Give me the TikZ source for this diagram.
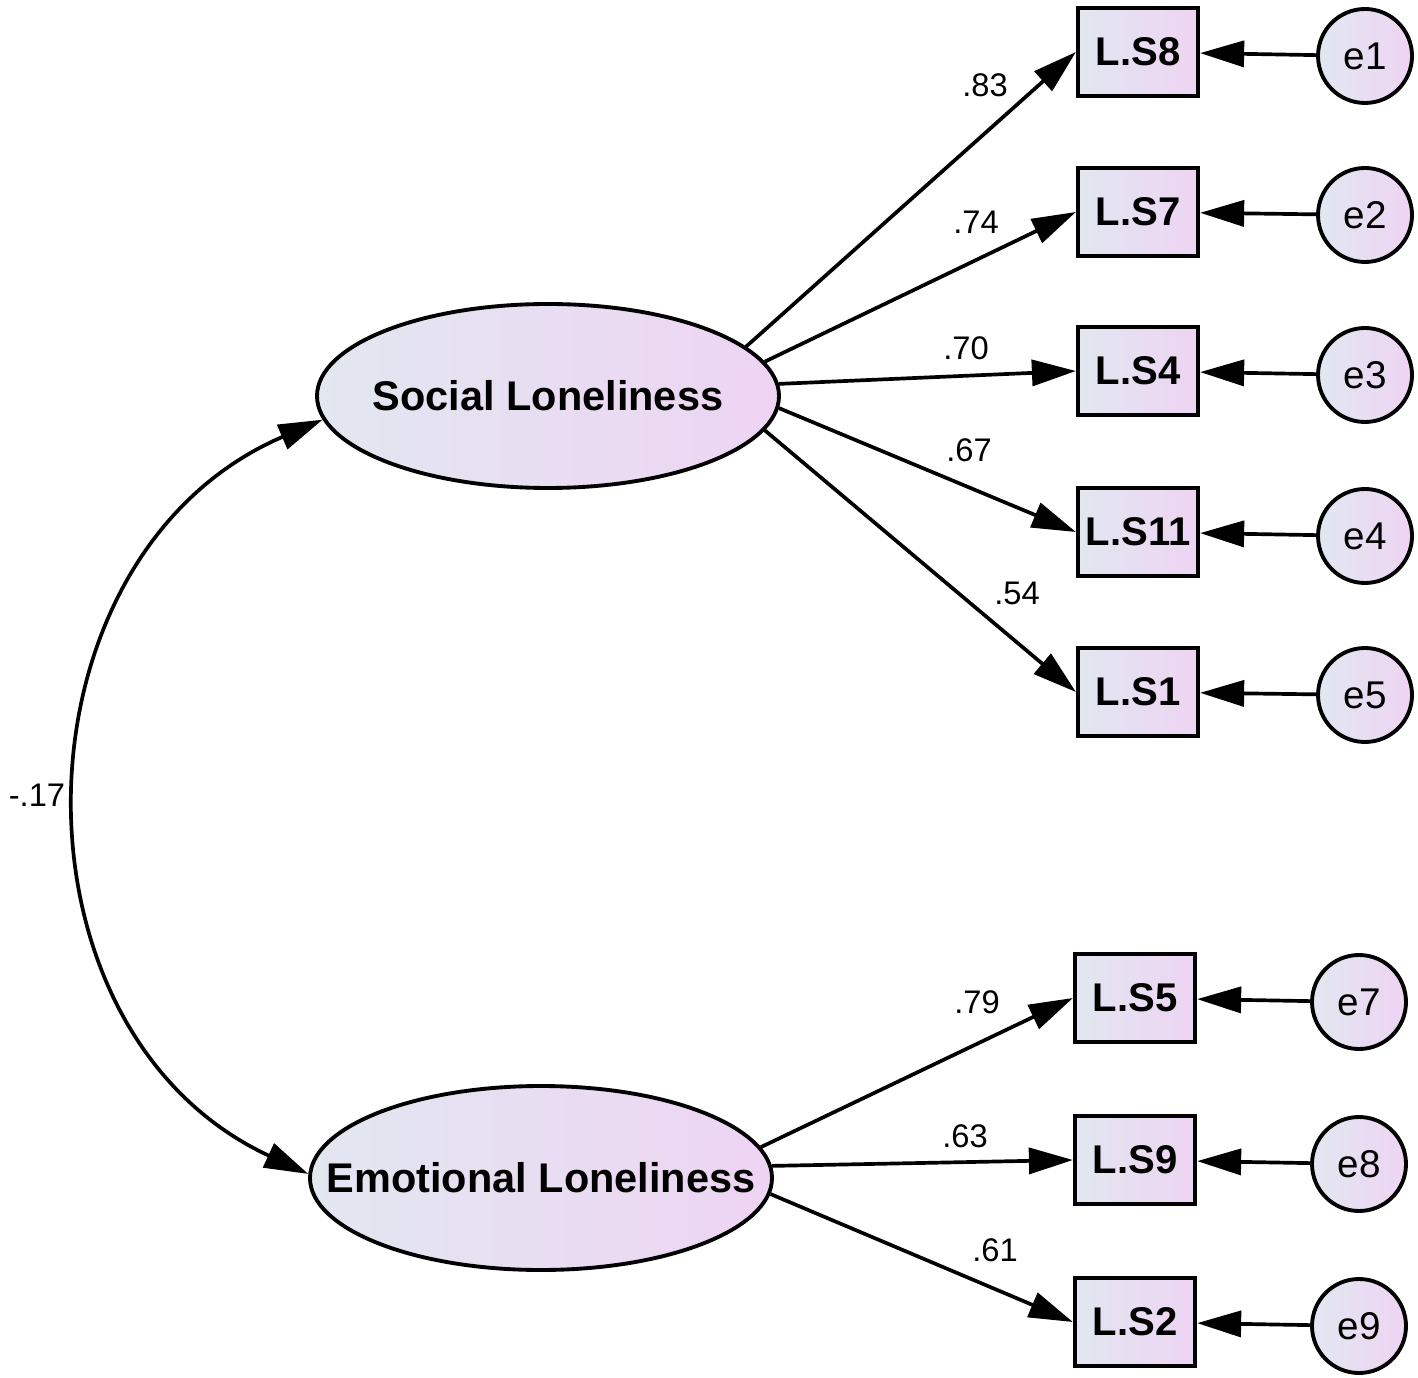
\documentclass[tikz,border=0pt]{standalone}
\usepackage{fontspec}
\setmainfont{Liberation Sans}
\usepackage{tikz}
\usetikzlibrary{arrows.meta,shapes.geometric,positioning}
\definecolor{shadeL}{RGB}{226,231,240}
\definecolor{shadeR}{RGB}{238,212,243}
\tikzset{
  latent/.style  = {ellipse, draw, line width=1.1pt, left color=shadeL, right color=shadeR,
                    minimum width=4.62cm, minimum height=1.84cm, inner sep=0pt,
                    font=\fontsize{11.8}{13}\selectfont\bfseries},
  item/.style    = {rectangle, draw, line width=1.2pt, left color=shadeL, right color=shadeR,
                    minimum width=1.2cm, minimum height=0.88cm, inner sep=0pt,
                    font=\fontsize{11.4}{13}\selectfont\bfseries},
  errvar/.style  = {circle, draw, line width=1.1pt, left color=shadeL, right color=shadeR,
                    minimum size=0.94cm, inner sep=0pt,
                    font=\fontsize{11}{12}\selectfont},
  load/.style    = {-{Triangle[length=4.4mm,width=2.6mm]}, line width=1.05pt},
  cov/.style     = {{Triangle[length=4.4mm,width=2.6mm]}-{Triangle[length=4.4mm,width=2.6mm]},
                    line width=1.05pt},
  coef/.style    = {font=\fontsize{9.3}{11}\selectfont, inner sep=1pt},
}

\begin{document}
\begin{tikzpicture}
  \useasboundingbox (0,0) rectangle (14.18,-13.78);

  % latent factors
  \node[latent] (SL) at (5.48,-3.96) {\makebox[0pt]{Social Loneliness}};
  \node[latent] (EL) at (5.41,-11.78) {\makebox[0pt]{Emotional Loneliness}};

  % observed items
  \node[item] (s8)  at (11.38,-0.52) {L.S8};
  \node[item] (s7)  at (11.38,-2.12) {L.S7};
  \node[item] (s4)  at (11.38,-3.71) {L.S4};
  \node[item] (s11) at (11.38,-5.32) {L.S11};
  \node[item] (s1)  at (11.38,-6.92) {L.S1};
  \node[item] (s5)  at (11.35,-9.98) {L.S5};
  \node[item] (s9)  at (11.35,-11.60) {L.S9};
  \node[item] (s2)  at (11.35,-13.22) {L.S2};

  % error terms
  \node[errvar] (e1) at (13.65,-0.56) {e1};
  \node[errvar] (e2) at (13.65,-2.15) {e2};
  \node[errvar] (e3) at (13.65,-3.75) {e3};
  \node[errvar] (e4) at (13.65,-5.36) {e4};
  \node[errvar] (e5) at (13.65,-6.95) {e5};
  \node[errvar] (e7) at (13.59,-10.02) {e7};
  \node[errvar] (e8) at (13.59,-11.64) {e8};
  \node[errvar] (e9) at (13.59,-13.26) {e9};

  % loadings
  \draw[load] (SL.14)  -- (s8.west);
  \draw[load] (SL.9)   -- (s7.west);
  \draw[load] (SL.3)   -- (s4.west);
  \draw[load] (SL.-3)  -- (s11.west);
  \draw[load] (SL.-9)  -- (s1.west);
  \draw[load] (EL.8)   -- (s5.west);
  \draw[load] (EL.3)   -- (s9.west);
  \draw[load] (EL.-4)  -- (s2.west);

  \foreach \e/\s in {e1/s8,e2/s7,e3/s4,e4/s11,e5/s1,e7/s5,e8/s9,e9/s2}
    \draw[load] (\e) -- (\s);

  % covariance
  \draw[cov] (SL.186) .. controls (0.07,-5.55) and (-0.02,-10.30) .. (EL.179);

  % coefficients
  \node[coef] (c8)  at (9.85,-0.85)  {.83};
  \node[coef] (c7)  at (9.76,-2.22)  {.74};
  \node[coef] (c4)  at (9.66,-3.48)  {.70};
  \node[coef] (c11) at (9.69,-4.50)  {.67};
  \node[coef] (c1)  at (10.17,-5.93) {.54};
  \node[coef] (c5)  at (9.77,-10.02) {.79};
  \node[coef] (c9)  at (9.65,-11.36) {.63};
  \node[coef] (c2)  at (9.95,-12.50) {.61};
  \node[coef] (rho) at (0.37,-7.95)  {-.17};
\end{tikzpicture}
\end{document}
